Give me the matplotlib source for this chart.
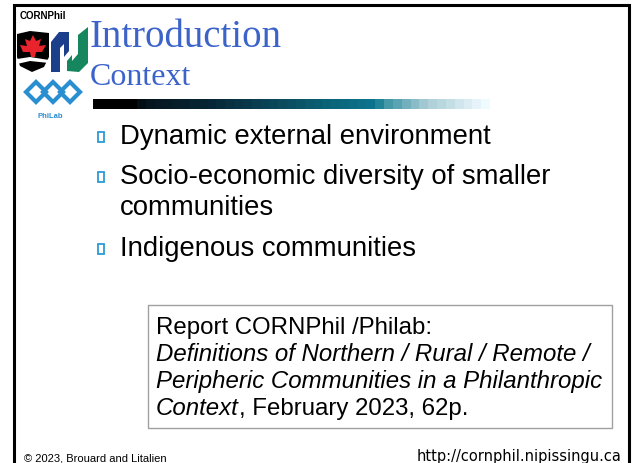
import numpy as np
import matplotlib.pyplot as plt
import matplotlib.patches as mpatches
from matplotlib.colors import LinearSegmentedColormap

# slide content
title = "Introduction"
subtitle = "Context"
bullets = [["Dynamic external environment"],
           ["Socio-economic diversity of smaller", "communities"],
           ["Indigenous communities"]]
report_head = "Report CORNPhil /Philab:"
report_lines = ["Definitions of Northern / Rural / Remote /",
                "Peripheric Communities in a Philanthropic"]
report_tail = ("Context", ", February 2023, 62p.")
footer_left = "\u00a9 2023, Brouard and Litalien"
footer_right = "http://cornphil.nipissingu.ca"

title_blue = "#3b63c9"
bullet_blue = "#2a9bd6"

fig = plt.figure(figsize=(6.32, 4.64), dpi=100)
ax = fig.add_axes([0, 0, 1, 1])
ax.set_xlim(0, 632)
ax.set_ylim(464, 0)
ax.axis("off")

# slide frame (cut at the bottom)
ax.plot([13.5, 13.5, 629, 629], [464, 6, 6, 464], color="black", lw=2.2,
        solid_joinstyle="miter")

# --- logos (rough) ---
ax.text(20, 16, "CORNPhil", fontsize=7, fontweight="bold",
        family="Liberation Sans", va="center", ha="left")

shield = mpatches.Polygon([(17, 35), (30, 32), (49, 34), (49, 58), (44, 68),
                           (32, 73), (20, 67), (17, 58)], closed=True,
                          fc="black", ec="none")
ax.add_patch(shield)
leaf = mpatches.Polygon([(33, 36), (36, 42), (41, 40), (39, 47), (46, 46),
                         (42, 53), (36, 53), (35, 58), (31, 58), (30, 53),
                         (23, 53), (20, 46), (27, 47), (25, 40), (30, 42)],
                        closed=True, fc="#e8232b", ec="none")
ax.add_patch(leaf)
ax.add_patch(mpatches.Polygon([(17, 60), (30, 58), (49, 61), (49, 64),
                               (30, 62), (17, 65)], closed=True,
                              fc="white", ec="none"))

ax.add_patch(mpatches.Polygon([(51, 73), (51, 43), (59, 33), (69, 33),
                               (69, 52), (64, 58), (64, 45), (60, 49),
                               (60, 73)], closed=True, fc="#1c3f8c", ec="none"))
ax.add_patch(mpatches.Polygon([(67, 72), (67, 62), (72, 56), (72, 62),
                               (78, 55), (78, 36), (88, 28), (88, 64),
                               (79, 73)], closed=True,
                              fc="#15865e", ec="none"))

for cx in [36, 53, 70]:
    ax.add_patch(mpatches.RegularPolygon((cx, 93), 4, radius=10,
                                         orientation=0, fc="none",
                                         ec="#2a8fd0", lw=3))
ax.text(50, 117, "PhiLab", fontsize=5.5, fontweight="bold", color="#2a8fd0",
        family="Liberation Sans", ha="center", va="center")

# --- title ---
ax.text(90, 47, title, fontsize=28, color=title_blue,
        family="Liberation Serif", ha="left", va="baseline")
ax.text(90, 85, subtitle, fontsize=23, color=title_blue,
        family="Liberation Serif", ha="left", va="baseline")

# stepped gradient bar under the title
stops = [(0.0, "#000000"), (0.1, "#000000"), (0.12, "#05141e"),
         (0.3, "#082838"), (0.45, "#0a4658"), (0.6, "#0b6478"),
         (0.72, "#0e7590"), (0.74, "#3a93a3"), (0.85, "#a8ccd6"),
         (1.0, "#f0fbff")]
cmap = LinearSegmentedColormap.from_list("bar", stops)
steps = np.linspace(0, 1, 45).reshape(1, -1)
ax.imshow(steps, cmap=cmap, aspect="auto", extent=[93, 490, 110, 100],
          interpolation="nearest", zorder=1)

# --- bullets ---
baselines = [[144], [184, 215], [256]]
for lines, ys in zip(bullets, baselines):
    ax.add_patch(mpatches.Rectangle((97.5, ys[0] - 11), 6.5, 10, fc="none",
                                    ec=bullet_blue, lw=1.3))
    for txt, y in zip(lines, ys):
        ax.text(120, y, txt, fontsize=19.8, family="Liberation Sans",
                ha="left", va="baseline")

# --- report box ---
fs_box = 17.3
ax.add_patch(mpatches.Rectangle((148, 306), 464, 123, fc="none",
                                ec="#a0a0a0", lw=1))
ax.text(156, 334, report_head, fontsize=fs_box, family="Liberation Sans",
        va="baseline")
for i, line in enumerate(report_lines):
    ax.text(156, 361 + 27 * i, line, fontsize=fs_box,
            family="Liberation Sans", style="italic", va="baseline")
t = ax.text(156, 415, report_tail[0], fontsize=fs_box,
            family="Liberation Sans", style="italic", va="baseline")
fig.canvas.draw()
bb = t.get_window_extent()
x_end = ax.transData.inverted().transform((bb.x1, bb.y0))[0]
ax.text(x_end, 415, report_tail[1], fontsize=fs_box, family="Liberation Sans",
        va="baseline")

# --- footer ---
ax.text(24, 462, footer_left, fontsize=8, family="Liberation Sans",
        va="baseline")
ax.text(621, 461, footer_right, fontsize=10.5, family="DejaVu Sans",
        ha="right", va="baseline")

fig.savefig("out.png", dpi=100)
